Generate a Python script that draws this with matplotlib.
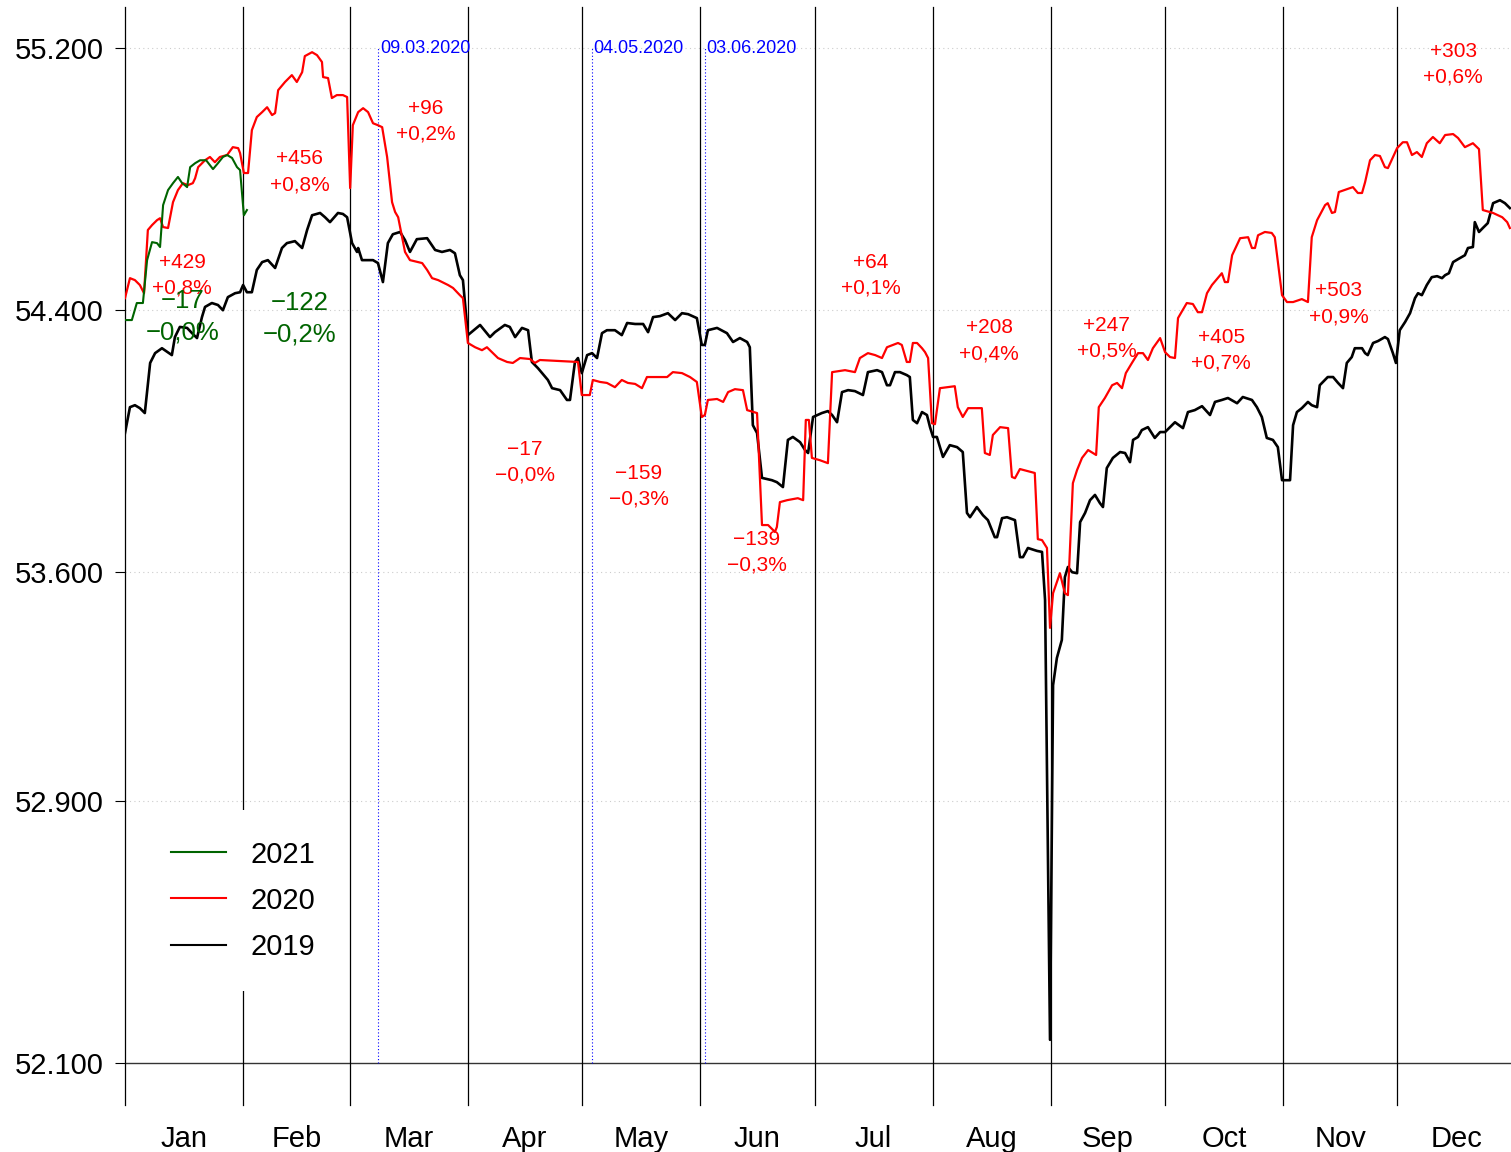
import matplotlib
matplotlib.use("Agg")
import matplotlib.pyplot as plt
import matplotlib.transforms as mtrans
from matplotlib.lines import Line2D

plt.rcParams['font.family'] = ['Liberation Sans', 'DejaVu Sans']

# month boundaries (day of year) and names
month_start = [0, 31, 59, 90, 120, 151, 181, 212, 243, 273, 304, 334, 365]
month_names = ['Jan', 'Feb', 'Mar', 'Apr', 'May', 'Jun',
               'Jul', 'Aug', 'Sep', 'Oct', 'Nov', 'Dec']

# 2019 (black)
days_2019 = [
    0.0, 1.3, 2.6, 3.9, 5.2, 6.6, 7.9, 9.7, 12.3, 13.1,
    14.4, 16.3, 17.6, 18.9, 20.2, 21.0, 22.8, 24.4, 25.7, 27.0,
    28.9, 30.2, 31.0, 32.0, 33.3, 34.6, 36.0, 37.5, 39.4, 41.2,
    42.5, 44.6, 46.5, 47.8, 49.1, 51.2, 52.5, 53.8, 55.9, 57.2,
    58.3, 59.6, 60.9, 61.2, 62.2, 65.1, 66.4, 67.7, 69.0, 70.3,
    72.2, 73.5, 74.8, 76.6, 79.3, 81.4, 83.2, 85.3, 86.6, 87.9,
    88.7, 90.0, 93.2, 95.8, 97.1, 99.7, 101.0, 102.4, 104.2, 105.8,
    106.8, 108.4, 111.0, 112.1, 114.2, 116.0, 116.8, 118.1, 118.9, 119.9,
    121.3, 122.6, 123.9, 125.2, 126.5, 128.6, 130.4, 131.8, 133.9, 136.0,
    137.3, 138.6, 140.4, 142.5, 144.4, 146.2, 147.8, 150.1, 151.4, 152.2,
    153.0, 155.4, 158.0, 159.6, 161.4, 163.3, 164.0, 164.8, 165.9, 167.2,
    169.8, 171.1, 172.7, 174.0, 175.3, 177.2, 178.5, 179.3, 180.6, 182.9,
    184.5, 185.6, 186.9, 188.2, 189.8, 191.6, 193.7, 195.0, 197.4, 198.7,
    200.0, 200.8, 202.1, 203.4, 205.2, 206.0, 206.8, 207.9, 209.2, 210.5,
    211.3, 212.1, 213.1, 214.7, 216.5, 218.4, 219.9, 221.0, 221.8, 223.6,
    225.2, 226.5, 228.3, 228.9, 230.2, 231.5, 233.6, 234.9, 235.7, 237.0,
    239.4, 240.7, 241.5, 242.8, 243.6, 244.6, 245.9, 246.7, 247.5, 248.6,
    249.9, 250.7, 252.0, 253.3, 254.6, 255.9, 256.7, 257.7, 259.3, 261.2,
    262.5, 263.8, 264.6, 265.9, 266.9, 268.5, 270.3, 271.7, 273.0, 275.6,
    277.7, 279.0, 280.8, 282.7, 284.8, 286.1, 287.9, 289.5, 291.9, 293.4,
    295.8, 297.1, 298.4, 299.7, 301.3, 302.6, 303.7, 305.8, 306.6, 307.6,
    308.9, 310.5, 311.5, 312.9, 313.6, 315.7, 317.1, 318.4, 319.7, 320.7,
    322.0, 322.8, 324.7, 325.5, 326.2, 327.6, 328.9, 330.7, 331.5, 332.8,
    333.6, 334.6, 336.0, 337.3, 338.6, 339.4, 340.4, 341.7, 343.0, 344.4,
    345.7, 346.5, 347.5, 348.6, 349.9, 351.7, 352.5, 353.8, 354.3, 355.4,
    356.4, 357.7, 359.1, 360.9, 362.2, 363.5]
vals_2019 = [
    54025, 54104, 54110, 54101, 54086, 54239, 54269, 54284, 54263, 54318,
    54349, 54346, 54330, 54315, 54379, 54410, 54422, 54416, 54400, 54440,
    54452, 54455, 54477, 54455, 54455, 54523, 54547, 54553, 54529, 54590,
    54605, 54611, 54590, 54645, 54690, 54697, 54684, 54669, 54697, 54694,
    54684, 54605, 54578, 54590, 54553, 54553, 54544, 54486, 54605, 54632,
    54639, 54614, 54578, 54617, 54620, 54584, 54578, 54584, 54574, 54507,
    54492, 54324, 54355, 54318, 54333, 54355, 54349, 54318, 54346, 54339,
    54242, 54223, 54187, 54162, 54156, 54126, 54126, 54242, 54254, 54208,
    54263, 54269, 54254, 54330, 54339, 54339, 54324, 54361, 54358, 54358,
    54333, 54379, 54382, 54391, 54370, 54391, 54388, 54376, 54294, 54294,
    54339, 54346, 54330, 54303, 54315, 54303, 54287, 54049, 54025, 53888,
    53881, 53875, 53860, 54004, 54013, 53997, 53973, 53964, 54074, 54086,
    54092, 54080, 54058, 54150, 54156, 54153, 54141, 54211, 54217, 54211,
    54171, 54171, 54211, 54211, 54202, 54196, 54065, 54055, 54089, 54080,
    54043, 54013, 54013, 53952, 53988, 53982, 53967, 53781, 53768, 53799,
    53774, 53759, 53707, 53707, 53765, 53768, 53759, 53646, 53646, 53674,
    53665, 53662, 53515, 52172, 53255, 53338, 53393, 53585, 53616, 53600,
    53597, 53753, 53781, 53820, 53836, 53811, 53799, 53918, 53949, 53967,
    53964, 53936, 54004, 54013, 54034, 54043, 54010, 54028, 54028, 54058,
    54040, 54089, 54095, 54107, 54080, 54120, 54126, 54132, 54116, 54135,
    54126, 54104, 54074, 54010, 54004, 53982, 53881, 53881, 54049, 54089,
    54101, 54120, 54110, 54104, 54171, 54196, 54196, 54178, 54162, 54239,
    54257, 54284, 54284, 54269, 54263, 54300, 54306, 54318, 54312, 54269,
    54239, 54339, 54364, 54391, 54437, 54452, 54446, 54477, 54501, 54504,
    54498, 54507, 54513, 54547, 54556, 54568, 54590, 54593, 54669, 54639,
    54651, 54666, 54727, 54736, 54727, 54712]

# 2020 (red)
days_2020 = [
    0.0, 1.3, 2.6, 3.9, 5.0, 6.0, 7.1, 8.4, 9.2, 10.0,
    11.3, 12.6, 13.9, 15.2, 16.5, 17.8, 18.4, 19.2, 21.0, 22.3,
    23.6, 24.9, 26.8, 28.3, 29.7, 30.2, 31.2, 32.3, 33.3, 34.6,
    36.0, 37.3, 38.6, 39.4, 40.2, 42.0, 43.8, 45.1, 46.5, 47.2,
    49.1, 50.4, 51.7, 52.0, 53.3, 54.3, 55.6, 57.2, 58.3, 59.1,
    59.8, 61.2, 62.5, 63.8, 65.1, 66.4, 67.5, 68.8, 70.1, 70.9,
    71.7, 73.5, 74.8, 76.9, 78.0, 79.3, 80.6, 82.2, 84.8, 86.1,
    87.9, 88.7, 90.0, 91.9, 93.7, 95.0, 96.3, 97.9, 100.3, 101.8,
    103.7, 106.3, 107.6, 108.9, 118.9, 119.9, 122.0, 122.8, 124.7, 126.5,
    128.6, 130.4, 132.0, 133.9, 135.7, 137.0, 142.3, 143.8, 146.2, 148.3,
    150.1, 151.4, 152.2, 153.0, 155.4, 157.0, 158.3, 160.1, 162.2, 163.3,
    165.9, 167.2, 168.8, 170.6, 171.1, 171.9, 173.8, 176.6, 178.0, 178.7,
    179.5, 180.3, 182.4, 184.5, 185.6, 189.0, 191.6, 192.9, 195.0, 196.9,
    198.7, 200.0, 201.6, 202.9, 203.9, 205.2, 206.0, 206.8, 207.9, 209.2,
    210.0, 210.8, 211.8, 212.6, 213.9, 217.8, 218.6, 219.9, 221.3, 224.9,
    225.7, 227.0, 227.8, 229.7, 231.8, 232.8, 233.6, 234.9, 238.8, 239.6,
    240.7, 242.0, 242.8, 243.6, 245.4, 246.7, 247.5, 248.8, 249.9, 251.2,
    252.8, 254.9, 255.6, 257.2, 259.1, 260.4, 261.7, 262.7, 264.3, 265.9,
    267.2, 268.5, 269.8, 271.7, 273.0, 274.3, 275.6, 276.4, 278.7, 280.3,
    281.6, 282.7, 284.0, 285.3, 287.9, 288.7, 289.5, 290.6, 292.7, 294.8,
    295.8, 296.6, 297.4, 299.2, 301.0, 301.8, 303.7, 305.0, 306.6, 308.9,
    310.5, 311.5, 312.9, 315.0, 315.7, 316.8, 317.6, 318.6, 322.3, 323.6,
    324.7, 325.5, 326.8, 328.1, 329.4, 330.7, 331.5, 333.9, 335.4, 336.5,
    337.8, 339.1, 340.4, 341.7, 343.3, 345.1, 346.5, 348.6, 349.9, 351.7,
    353.8, 355.4, 356.4, 359.1, 361.5, 362.8, 363.5]
vals_2020 = [
    54437, 54498, 54492, 54477, 54452, 54645, 54660, 54675, 54681, 54654,
    54651, 54730, 54767, 54788, 54782, 54788, 54803, 54837, 54858, 54868,
    54852, 54868, 54874, 54898, 54895, 54880, 54819, 54819, 54950, 54990,
    55005, 55020, 54996, 55002, 55072, 55097, 55118, 55097, 55127, 55176,
    55188, 55179, 55158, 55112, 55109, 55048, 55057, 55057, 55051, 54773,
    54965, 55005, 55017, 55005, 54971, 54965, 54959, 54868, 54730, 54700,
    54684, 54578, 54553, 54547, 54544, 54523, 54498, 54492, 54477, 54468,
    54446, 54437, 54300, 54287, 54278, 54287, 54272, 54254, 54242, 54239,
    54254, 54251, 54239, 54248, 54242, 54141, 54141, 54187, 54181, 54178,
    54165, 54187, 54178, 54175, 54162, 54196, 54196, 54211, 54208, 54196,
    54181, 54074, 54080, 54126, 54129, 54120, 54150, 54159, 54156, 54095,
    54086, 53744, 53744, 53723, 53738, 53814, 53820, 53826, 53820, 54065,
    54065, 53949, 53942, 53933, 54211, 54217, 54211, 54254, 54269, 54263,
    54254, 54287, 54294, 54300, 54294, 54242, 54242, 54300, 54300, 54284,
    54272, 54254, 54055, 54052, 54162, 54168, 54104, 54074, 54101, 54101,
    53964, 53958, 54019, 54043, 54040, 53891, 53887, 53915, 53903, 53701,
    53698, 53674, 53430, 53536, 53597, 53536, 53530, 53872, 53912, 53949,
    53973, 53958, 54104, 54132, 54171, 54178, 54162, 54208, 54239, 54269,
    54269, 54248, 54284, 54315, 54272, 54257, 54254, 54376, 54422, 54419,
    54394, 54394, 54452, 54477, 54513, 54486, 54486, 54568, 54620, 54623,
    54590, 54590, 54629, 54639, 54636, 54623, 54446, 54425, 54425, 54434,
    54425, 54623, 54675, 54721, 54727, 54697, 54700, 54761, 54776, 54758,
    54758, 54791, 54858, 54874, 54871, 54837, 54834, 54895, 54913, 54913,
    54874, 54883, 54868, 54910, 54929, 54910, 54935, 54938, 54926, 54898,
    54910, 54892, 54706, 54697, 54684, 54669, 54651]

# 2021 (green, January only)
days_2021 = [0.0, 1.8, 3.1, 4.7, 5.8, 7.1, 8.4, 9.2, 10.0, 11.3,
             12.6, 13.9, 15.0, 15.7, 16.3, 17.1, 18.4, 19.7, 21.3, 22.3,
             23.1, 24.4, 25.7, 26.8, 28.1, 29.4, 30.2, 31.2, 32.0]
vals_2021 = [54370, 54370, 54422, 54422, 54553, 54608, 54605, 54593, 54721, 54767,
             54788, 54807, 54788, 54782, 54776, 54837, 54849, 54858, 54858, 54843,
             54831, 54849, 54868, 54874, 54865, 54837, 54828, 54690, 54706]

# monthly differences 2020 vs 2019 and 2021 vs 2020
diff_2020 = [429, 456, 96, -17, -159, -139, 64, 208, 247, 405, 503, 303]
pct_2020 = [0.8, 0.8, 0.2, -0.0, -0.3, -0.3, 0.1, 0.4, 0.5, 0.7, 0.9, 0.6]
lab_x_2020 = [15.0, 45.9, 79.0, 105.0, 134.9, 165.9, 195.8, 226.8, 257.7, 287.7, 318.6, 348.6]
lab_y_2020 = [54553, 54868, 55023, 53982, 53909, 53707, 54553, 54352, 54361, 54324, 54465, 55197]

diff_2021 = [-17, -122]
pct_2021 = [-0.0, -0.2]
lab_x_2021 = [15.0, 45.9]
lab_y_2021 = [54437, 54431]

# marked dates
event_labels = ['09.03.2020', '04.05.2020', '03.06.2020']
event_days = [66.5, 122.5, 152.2]

yticks = [52100, 52900, 53600, 54400, 55200]


def fmt(d, p):
    s = '+' if d > 0 else '\u2212'
    return f"{s}{abs(d)}", (f"{s}{abs(p):.1f}%").replace('.', ',')


fig = plt.figure(figsize=(15.11, 11.52), dpi=100)
ax = fig.add_axes([125 / 1511, 1 - 1105 / 1152, 1 - 125 / 1511, (1105 - 7) / 1152])
ax.set_xlim(0, 363.8)
ax.set_ylim(51973, 55326)
for s in ax.spines.values():
    s.set_visible(False)

# grid and base line
for yt in yticks[1:]:
    ax.axhline(yt, color='#cccccc', lw=0.8, ls=(0, (1, 3)), zorder=0)
ax.axhline(yticks[0], color='#333333', lw=1.0, zorder=1)

# month separators
for ms in month_start[:-1]:
    ax.axvline(ms, color='black', lw=0.9, zorder=1, clip_on=False)

# marked dates
ax.vlines(event_days, yticks[0], yticks[-1], colors='blue', lw=0.8,
          linestyles=(0, (1, 2)), zorder=1)
for ed, el in zip(event_days, event_labels):
    ax.text(ed + 0.4, yticks[-1], el, color='blue', fontsize=13,
            ha='left', va='center', zorder=3)

ax.plot(days_2019, vals_2019, color='black', lw=1.9, zorder=4)
ax.plot(days_2020, vals_2020, color='red', lw=1.6, zorder=5)
ax.plot(days_2021, vals_2021, color='darkgreen', lw=1.5, zorder=6)

# annotations
for x, y, d, p in zip(lab_x_2020, lab_y_2020, diff_2020, pct_2020):
    t1, t2 = fmt(d, p)
    ax.text(x, y, t1, color='red', fontsize=15, ha='center', va='center_baseline', zorder=7)
    ax.annotate(t2, (x, y), xytext=(0, -18.7), textcoords='offset points',
                color='red', fontsize=15, ha='center', va='center_baseline', zorder=7)
for x, y, d, p in zip(lab_x_2021, lab_y_2021, diff_2021, pct_2021):
    t1, t2 = fmt(d, p)
    ax.text(x, y, t1, color='darkgreen', fontsize=18.5, ha='center', va='center_baseline', zorder=7)
    ax.annotate(t2, (x, y), xytext=(0, -23), textcoords='offset points',
                color='darkgreen', fontsize=18.5, ha='center', va='center_baseline', zorder=7)

# axes ticks
ax.set_yticks(yticks)
ax.set_yticklabels([f"{v:,}".replace(',', '.') for v in yticks])
ax.tick_params(axis='y', length=7.2, width=0.8, pad=8, labelsize=21)
ax.set_xticks([])

trans = mtrans.blended_transform_factory(ax.transData, fig.transFigure)
for i, name in enumerate(month_names):
    xm = (month_start[i] + month_start[i + 1]) / 2
    ax.text(xm, 1 - 1147 / 1152, name, transform=trans, fontsize=21,
            ha='center', va='baseline', clip_on=False)

handles = [Line2D([], [], color='darkgreen', lw=1.5),
           Line2D([], [], color='red', lw=1.5),
           Line2D([], [], color='black', lw=1.5)]
leg = ax.legend(handles, ['2021', '2020', '2019'], loc='upper left',
                bbox_to_anchor=(140 / 1511, 1 - 810 / 1152), bbox_transform=fig.transFigure,
                frameon=True, facecolor='white', edgecolor='none', framealpha=1,
                fancybox=False, fontsize=21, handlelength=1.9, handletextpad=0.85,
                labelspacing=0.62, borderpad=1.05, borderaxespad=0)
leg.set_zorder(8)

fig.savefig('out.png', dpi=100)
